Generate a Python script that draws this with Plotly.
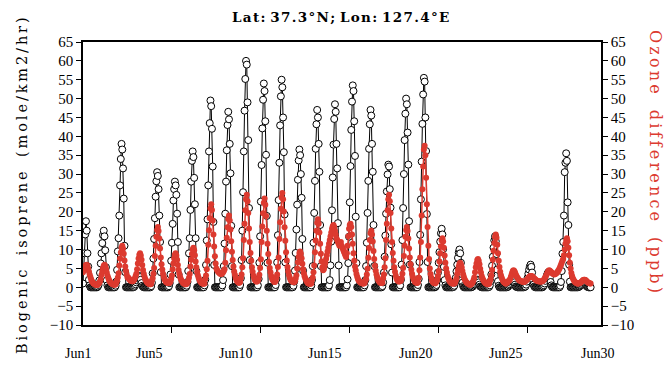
import plotly.graph_objects as go

# ---------------- data (hourly, starting Jun 1 00h) ----------------
chart_title = "Lat: 37.3°N; Lon: 127.4°E"
date_labels = ["Jun1", "Jun5", "Jun10", "Jun15", "Jun20", "Jun25", "Jun30"]
y_tick_values = [-10, -5, 0, 5, 10, 15, 20, 25, 30, 35, 40, 45, 50, 55, 60, 65]
left_title = "Biogenic isoprene (mole/km2/hr)"
right_title = "Ozone difference (ppb)"

isoprene = [
    1.0, 5.0, 9.0, 14.0, 17.5, 15.0, 9.0, 5.5, 2.0, 0.5, 0, 0, 0, 0, 0, 0, 0, 0, 0, 0, 0.2, 0.6, 1.8, 3.8,
    6.3, 9.0, 11.7, 13.8, 15.0, 13.5, 9.8, 5.3, 1.8, 0.5, 0, 0, 0, 0, 0, 0, 0, 0, 0, 0, 0.4, 1.5, 4.6, 9.5,
    13.0, 19.0, 27.0, 34.0, 38.0, 36.5, 31.5, 23.5, 11.0, 4.0, 0, 0, 0, 0, 0, 0, 0, 0, 0, 0, 0, 0.1, 0.4, 0.8,
    1.3, 1.8, 2.3, 2.8, 3.0, 2.7, 2.0, 1.1, 0.4, 0.1, 0, 0, 0, 0, 0, 0, 0, 0, 0, 0, 0.3, 1.2, 3.7, 7.6,
    12.8, 18.3, 24.0, 28.1, 30.5, 29.5, 26.0, 19.0, 12.0, 4.0, 0, 0, 0, 0, 0, 0, 0, 0, 0, 0, 0.3, 1.1, 3.4, 7.0,
    11.8, 16.8, 23.0, 26.0, 28.0, 27.0, 24.5, 19.5, 12.0, 3.4, 0, 0, 0, 0, 0, 0, 0, 0, 0, 0, 0.4, 1.4, 4.3, 9.0,
    13.0, 20.5, 28.0, 33.5, 36.0, 34.5, 29.0, 22.0, 13.0, 4.3, 0, 0, 0, 0, 0, 0, 0, 0, 0, 0, 0.5, 2.0, 5.9, 12.4,
    18.0, 27.0, 36.0, 43.5, 49.5, 48.0, 42.0, 32.0, 17.3, 5.9, 0, 0, 0, 0, 0, 0, 0, 0, 0, 0, 0.5, 1.9, 5.6, 11.6,
    19.5, 28.0, 36.3, 43.0, 46.5, 44.5, 38.0, 30.2, 16.3, 5.6, 0, 0, 0, 0, 0, 0, 0, 0, 0, 0, 0.6, 2.4, 7.2, 15.0,
    25.2, 36.0, 46.8, 55.2, 60.0, 59.0, 49.0, 39.0, 21.0, 7.2, 0, 0, 0, 0, 0, 0, 0, 0, 0, 0, 0.5, 2.2, 6.5, 13.5,
    22.7, 32.4, 42.1, 49.7, 54.0, 52.0, 44.0, 35.1, 18.9, 6.5, 0, 0, 0, 0, 0, 0, 0, 0, 0, 0, 0.6, 2.2, 6.6, 13.8,
    23.1, 33.0, 42.9, 50.6, 55.0, 53.0, 45.0, 35.8, 19.3, 6.6, 0, 0, 0, 0, 0, 0, 0, 0, 0, 0, 0.4, 1.5, 4.4, 9.1,
    15.3, 21.9, 28.5, 33.6, 36.5, 35.0, 30.0, 23.7, 12.8, 4.4, 0, 0, 0, 0, 0, 0, 0, 0, 0, 0, 0.5, 1.9, 5.6, 11.8,
    19.7, 28.2, 36.7, 43.2, 47.0, 45.0, 38.0, 30.6, 16.5, 5.6, 0, 0, 0, 0, 0, 0, 0, 0, 0, 0, 0.5, 1.9, 5.8, 12.1,
    20.4, 29.1, 37.8, 44.6, 48.5, 46.5, 38.0, 31.5, 17.0, 5.8, 0, 0, 0, 0, 0, 0, 0, 0, 0, 0, 0.5, 2.1, 6.4, 13.4,
    22.5, 32.1, 41.7, 49.2, 53.5, 52.0, 44.0, 34.8, 18.7, 6.4, 0, 0, 0, 0, 0, 0, 0, 0, 0, 0, 0.5, 1.9, 5.6, 11.8,
    19.7, 28.2, 36.7, 43.2, 47.0, 45.5, 38.0, 30.6, 16.5, 5.6, 0, 0, 0, 0, 0, 0, 0, 0, 0, 0, 0.3, 1.3, 3.9, 8.1,
    13.7, 19.5, 25.4, 29.9, 32.5, 32.0, 26.0, 21.1, 11.4, 3.9, 0, 0, 0, 0, 0, 0, 0, 0, 0, 0, 0.5, 2.0, 6.0, 12.5,
    21.0, 30.0, 39.0, 46.0, 50.0, 48.5, 41.0, 32.5, 17.5, 6.0, 0, 0, 0, 0, 0, 0, 0, 0, 0, 0, 0.6, 2.2, 6.7, 13.9,
    23.3, 33.3, 43.3, 51.1, 55.5, 54.5, 45.0, 36.1, 19.4, 6.7, 0, 0, 0, 0, 0, 0, 0, 0, 0, 0, 0.2, 0.6, 1.9, 3.9,
    6.5, 9.3, 12.1, 14.3, 15.5, 14.0, 10.1, 5.4, 1.9, 0.5, 0, 0, 0, 0, 0, 0, 0, 0, 0, 0, 0.1, 0.4, 1.2, 2.5,
    4.2, 6.0, 7.8, 9.2, 10.0, 9.0, 6.5, 3.5, 1.2, 0.3, 0, 0, 0, 0, 0, 0, 0, 0, 0, 0, 0, 0.1, 0.2, 0.5,
    0.8, 1.2, 1.6, 1.8, 2.0, 1.8, 1.3, 0.7, 0.2, 0.1, 0, 0, 0, 0, 0, 0, 0, 0, 0, 0, 0.1, 0.5, 1.6, 3.4,
    5.7, 8.1, 10.5, 12.4, 13.5, 12.2, 8.8, 4.7, 1.6, 0.4, 0, 0, 0, 0, 0, 0, 0, 0, 0, 0, 0, 0.1, 0.2, 0.5,
    0.8, 1.2, 1.6, 1.8, 2.0, 1.8, 1.3, 0.7, 0.2, 0.1, 0, 0, 0, 0, 0, 0, 0, 0, 0, 0, 0.1, 0.2, 0.7, 1.5,
    2.5, 3.6, 4.7, 5.5, 6.0, 5.4, 3.9, 2.1, 0.7, 0.2, 0, 0, 0, 0, 0, 0, 0, 0, 0, 0, 0, 0.2, 0.5, 1.0,
    1.7, 2.4, 3.1, 3.7, 4.0, 3.6, 2.6, 1.4, 0.5, 0.1, 0, 0, 0, 0, 0, 0, 0, 0, 0, 0, 0.4, 1.4, 4.3, 8.9,
    12.0, 19.0, 30.5, 33.0, 35.5, 33.5, 22.5, 16.5, 6.0, 1.5, 0, 0, 0, 0, 0, 0, 0, 0, 0, 0, 0, 0.1, 0.2, 0.4,
    0.6, 0.9, 1.2, 1.4, 1.5, 1.4, 1.0, 0.5, 0.2, 0.1, 0, 0, 0, 0,
]

ozone_diff = [
    4.0, 4.6, 5.2, 5.6, 5.9, 6.0, 5.7, 5.0, 4.2, 3.4, 2.7, 2.1, 1.6, 1.3, 1.0, 0.9, 0.8, 0.7, 0.6, 0.6, 0.7, 0.9, 1.2, 1.6,
    2.2, 3.3, 4.2, 5.1, 5.7, 6.0, 5.6, 4.9, 4.0, 3.1, 2.5, 2.0, 1.6, 1.3, 1.1, 0.9, 0.8, 0.8, 0.7, 0.7, 0.8, 1.3, 1.8, 2.6,
    3.7, 5.8, 7.6, 9.2, 10.5, 11.0, 10.3, 8.9, 7.1, 5.5, 4.3, 3.3, 2.6, 2.6, 2.3, 2.0, 1.8, 1.7, 1.6, 1.6, 1.7, 2.0, 2.4, 3.0,
    3.6, 4.8, 6.3, 7.6, 8.6, 9.0, 8.4, 7.3, 5.9, 4.6, 3.6, 2.8, 2.2, 1.8, 1.4, 1.2, 1.0, 0.9, 0.8, 0.8, 0.9, 1.7, 2.4, 3.6,
    5.1, 8.3, 11.0, 13.4, 15.2, 16.0, 14.9, 12.9, 10.3, 7.9, 6.1, 4.7, 3.6, 2.8, 2.2, 1.7, 1.4, 1.3, 1.1, 1.1, 1.1, 1.2, 1.5, 2.2,
    3.1, 4.8, 6.3, 7.6, 8.6, 9.0, 8.4, 7.3, 5.9, 4.6, 3.6, 2.8, 2.2, 1.8, 1.4, 1.2, 1.0, 0.9, 0.8, 0.8, 0.9, 1.3, 1.7, 2.5,
    3.5, 5.5, 7.3, 8.8, 10.0, 10.5, 9.8, 8.5, 6.8, 5.3, 4.1, 3.2, 2.5, 2.0, 1.6, 1.3, 1.1, 1.0, 0.9, 0.9, 1.0, 2.2, 3.1, 4.8,
    7.0, 11.3, 15.1, 18.3, 20.9, 22.0, 20.5, 17.7, 14.0, 10.8, 8.2, 6.3, 5.0, 4.5, 4.2, 4.0, 3.8, 3.6, 3.5, 3.5, 3.7, 4.0, 4.3, 4.8,
    6.5, 9.8, 13.1, 15.9, 18.1, 19.0, 17.7, 15.3, 12.2, 9.4, 7.2, 5.5, 4.2, 3.3, 2.5, 2.0, 1.6, 1.4, 1.2, 1.2, 1.4, 2.4, 3.4, 5.3,
    7.7, 12.5, 16.8, 20.4, 23.3, 24.5, 22.8, 19.7, 15.6, 12.0, 9.1, 7.0, 5.3, 4.1, 3.1, 2.4, 1.9, 1.7, 1.5, 1.5, 1.7, 2.3, 3.3, 5.1,
    7.4, 12.0, 16.1, 19.6, 22.4, 23.5, 21.9, 18.9, 15.0, 11.5, 8.8, 6.7, 5.1, 4.0, 3.0, 2.3, 1.9, 1.7, 1.4, 1.4, 1.7, 2.5, 3.4, 5.4,
    7.9, 12.8, 17.2, 20.8, 23.8, 25.0, 23.3, 20.1, 15.9, 12.3, 9.3, 7.1, 5.4, 4.2, 3.2, 2.5, 2.0, 1.7, 1.5, 1.5, 1.4, 1.3, 1.6, 2.3,
    3.2, 5.0, 6.6, 8.0, 9.1, 9.5, 8.9, 7.7, 6.2, 4.8, 3.7, 2.9, 2.3, 1.9, 1.5, 1.2, 1.0, 1.0, 0.9, 0.9, 1.0, 1.9, 2.6, 4.0,
    5.8, 9.3, 12.4, 15.0, 17.1, 18.0, 16.8, 14.5, 11.5, 8.9, 6.8, 5.3, 4.5, 4.8, 5.5, 6.5, 7.5, 8.5, 9.5, 10.5, 11.5, 12.5, 13.5, 14.5,
    15.5, 16.2, 16.5, 16.0, 15.0, 14.0, 13.0, 12.5, 12.0, 11.5, 11.0, 11.5, 12.0, 11.0, 10.5, 10.0, 9.5, 9.0, 8.5, 8.0, 9.0, 11.0, 13.5, 15.5,
    16.5, 16.8, 16.0, 14.0, 11.5, 9.0, 7.0, 5.5, 4.5, 3.5, 2.8, 2.2, 1.8, 1.5, 1.3, 1.2, 1.1, 1.0, 1.0, 1.0, 1.1, 1.7, 2.2, 3.4,
    4.9, 7.8, 10.4, 12.5, 14.3, 15.0, 14.0, 12.1, 9.6, 7.5, 5.7, 4.4, 3.4, 2.7, 2.1, 1.7, 1.4, 1.2, 1.1, 1.1, 1.2, 2.4, 3.4, 5.3,
    7.7, 12.5, 16.8, 20.4, 23.3, 24.5, 22.8, 19.7, 15.6, 12.0, 9.1, 7.0, 5.3, 4.1, 3.1, 2.4, 1.9, 1.7, 1.5, 1.5, 1.7, 1.7, 2.4, 3.6,
    5.1, 8.3, 11.0, 13.4, 15.2, 16.0, 14.9, 12.9, 10.3, 7.9, 6.1, 4.7, 3.6, 2.8, 2.2, 1.7, 1.4, 1.3, 1.1, 1.1, 1.3, 2.5, 4.5, 7.9,
    12.0, 19.0, 26.0, 32.0, 36.5, 37.5, 35.0, 29.0, 22.0, 16.0, 11.0, 7.5, 5.0, 3.5, 2.5, 1.8, 1.4, 1.2, 1.1, 1.0, 1.2, 1.5, 2.0, 3.0,
    4.3, 6.8, 9.0, 10.9, 12.4, 13.0, 12.1, 10.5, 8.4, 6.5, 5.0, 3.9, 3.0, 2.4, 1.9, 1.5, 1.3, 1.1, 1.0, 1.0, 1.0, 1.0, 1.2, 1.7,
    2.3, 3.5, 4.6, 5.5, 6.2, 6.5, 6.1, 5.3, 4.3, 3.4, 2.7, 2.1, 1.7, 1.4, 1.2, 1.0, 0.9, 0.8, 0.7, 0.7, 0.8, 1.1, 1.3, 1.9,
    2.6, 4.0, 5.3, 6.3, 7.2, 7.5, 7.0, 6.1, 4.9, 3.9, 3.0, 2.4, 1.9, 1.6, 1.3, 1.1, 0.9, 0.9, 0.8, 0.8, 0.9, 1.6, 2.1, 3.2,
    4.6, 7.3, 9.7, 11.7, 13.3, 14.0, 13.1, 11.3, 9.0, 7.0, 5.4, 4.1, 3.2, 2.5, 2.0, 1.6, 1.3, 1.2, 1.0, 1.0, 1.2, 1.4, 1.6, 1.8,
    2.0, 2.6, 3.2, 3.8, 4.3, 4.5, 4.3, 3.9, 3.4, 3.0, 2.6, 2.3, 2.0, 1.8, 1.7, 1.6, 1.5, 1.5, 1.4, 1.4, 1.5, 1.6, 1.8, 2.0,
    2.2, 2.5, 2.7, 2.9, 3.0, 3.0, 2.9, 2.7, 2.5, 2.3, 2.1, 1.9, 1.8, 1.7, 1.6, 1.6, 1.5, 1.5, 1.5, 1.5, 1.6, 1.8, 2.0, 2.3,
    2.7, 3.1, 3.5, 3.9, 4.3, 4.5, 4.4, 4.2, 4.0, 3.8, 3.6, 3.5, 3.4, 3.5, 3.6, 3.8, 4.0, 4.3, 4.6, 5.0, 5.5, 6.0, 6.5, 7.0,
    7.5, 8.5, 10.0, 11.5, 12.5, 13.0, 12.2, 10.5, 8.5, 6.5, 5.0, 3.8, 3.0, 2.4, 2.0, 1.6, 1.4, 1.2, 1.1, 1.0, 1.0, 1.0, 1.1, 1.2,
    1.3, 1.5, 1.7, 1.9, 2.0, 2.0, 1.9, 1.7, 1.5, 1.3, 1.2, 1.1, 1.0, 1.0,
]

hours_iso = list(range(len(isoprene)))
hours_oz = list(range(len(ozone_diff)))

# ---------------- figure ----------------
RED = "#dc3a2f"
SERIF = "Liberation Serif"
WIDE_SERIF = "DejaVu Serif"


def spaced(s, gap="\u2009", word_gap="\u2003"):
    """letter-spaced text (small spaces between glyphs, wider between words)"""
    words = s.split(" ")
    return word_gap.join(gap.join(w) for w in words)


fig = go.Figure()
fig.add_trace(go.Scatter(
    x=hours_iso, y=isoprene, mode="lines+markers",
    line=dict(color="black", width=1),
    marker=dict(symbol="circle", size=7, color="white", line=dict(color="black", width=1)),
    showlegend=False,
))
fig.add_trace(go.Scatter(
    x=hours_oz, y=ozone_diff, mode="lines+markers", yaxis="y2",
    line=dict(color=RED, width=1.5),
    marker=dict(symbol="circle", size=6, color=RED),
    showlegend=False,
))

axis_common = dict(
    range=[-10, 65], tickvals=y_tick_values, showgrid=False, zeroline=False,
    showline=True, linecolor="black", linewidth=1.5, ticks="outside", ticklen=5,
    tickwidth=1.2, tickcolor="black", tickfont=dict(family=SERIF, size=15, color="black"),
)

W, H = 672, 367
L, R, T, B = 83, 71, 42, 42
pw, ph = W - L - R, H - T - B

fig.update_layout(
    width=W, height=H,
    margin=dict(l=L, r=R, t=T, b=B),
    paper_bgcolor="white", plot_bgcolor="white",
    xaxis=dict(range=[0, 699], tickvals=[120, 240, 360, 480, 600], ticktext=[""] * 5,
               ticks="outside", ticklen=6, tickwidth=1.2, tickcolor="black",
               showline=True, linecolor="black", linewidth=1.5, mirror=True,
               showgrid=False, zeroline=False),
    yaxis=dict(side="left", **axis_common),
    yaxis2=dict(side="right", overlaying="y", **axis_common),
)


def px_ann(text, x, y, font, angle=0):
    return dict(text=text, x=(x - L) / pw, y=(H - B - y) / ph, xref="paper", yref="paper",
                xanchor="center", yanchor="middle", showarrow=False, textangle=angle, font=font)


annotations = [
    px_ann(spaced(chart_title, "\u200a", " "), 340, 17,
           dict(family=WIDE_SERIF, size=13.5, color="black", weight="bold")),
    px_ann(spaced(left_title), 22, 186, dict(family=WIDE_SERIF, size=14.5, color="black"), -90),
    px_ann(spaced(right_title), 656, 161, dict(family=WIDE_SERIF, size=16, color=RED), 90),
]

label_px = [78, 149, 235, 324, 415, 505, 597]
for lab, lx in zip(date_labels, label_px):
    annotations.append(px_ann(lab, lx, 353, dict(family=SERIF, size=14, color="black")))

fig.update_layout(annotations=annotations)
fig.write_html("out.html")
